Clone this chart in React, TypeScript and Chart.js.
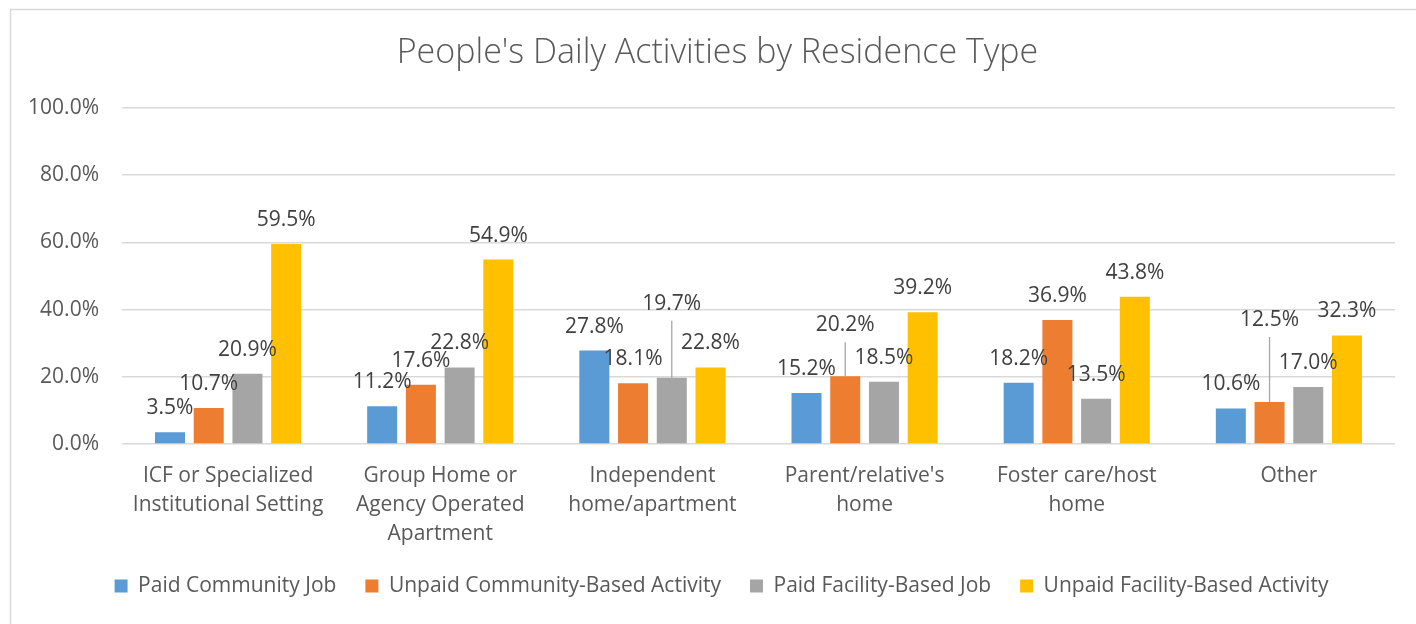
import React, { useEffect, useRef } from 'react';
import { Chart, registerables } from 'chart.js';

Chart.register(...registerables);

const chartTitle = "People's Daily Activities by Residence Type";

const categories: (string | string[])[] = [
  ['ICF or Specialized', 'Institutional Setting'],
  ['Group Home or', 'Agency Operated', 'Apartment'],
  ['Independent', 'home/apartment'],
  ["Parent/relative's", 'home'],
  ['Foster care/host', 'home'],
  'Other',
];

const seriesNames = [
  'Paid Community Job',
  'Unpaid Community-Based Activity',
  'Paid Facility-Based Job',
  'Unpaid Facility-Based Activity',
];

const paidCommunityJob = [3.5, 11.2, 27.8, 15.2, 18.2, 10.6];
const unpaidCommunityActivity = [10.7, 17.6, 18.1, 20.2, 36.9, 12.5];
const paidFacilityJob = [20.9, 22.8, 19.7, 18.5, 13.5, 17.0];
const unpaidFacilityActivity = [59.5, 54.9, 22.8, 39.2, 43.8, 32.3];

const yTickValues = [0, 20, 40, 60, 80, 100];

const seriesColors = ['#5B9BD5', '#ED7D31', '#A5A5A5', '#FFC000'];

// extra upward shift (px) of manually moved data labels, per series / category
const labelLift = [
  [0, 0, 0, 0, 0, 0],
  [0, 0, 0, 27, 0, 58],
  [0, 0, 50, 0, 0, 0],
  [0, 0, 0, 0, 0, 0],
];

const FONT = '"Open Sans", "Noto Sans", sans-serif';

const borderPlugin = {
  id: 'outerBorder',
  beforeDraw(chart: any) {
    const ctx = chart.ctx;
    ctx.save();
    ctx.strokeStyle = '#d9d9d9';
    ctx.lineWidth = 1.5;
    ctx.beginPath();
    ctx.moveTo(10.5, chart.height);
    ctx.lineTo(10.5, 9.5);
    ctx.lineTo(chart.width, 9.5);
    ctx.stroke();
    ctx.restore();
  },
};

// centre the title and legend like the original (slightly right of canvas centre)
const centerShiftPlugin = {
  id: 'centerShift',
  afterLayout(chart: any) {
    if (chart.legend) {
      chart.legend.left += 14;
      chart.legend.right += 14;
    }
    if (chart.titleBlock) {
      chart.titleBlock.left += 10;
      chart.titleBlock.right += 10;
    }
  },
};

const labelPlugin = {
  id: 'barValueLabels',
  afterDatasetsDraw(chart: any) {
    const ctx = chart.ctx;
    ctx.save();
    ctx.font = `21px ${FONT}`;
    ctx.textAlign = 'center';
    ctx.textBaseline = 'middle';
    chart.data.datasets.forEach((ds: any, di: number) => {
      const meta = chart.getDatasetMeta(di);
      meta.data.forEach((el: any, i: number) => {
        const v = ds.data[i] as number;
        const lift = labelLift[di][i];
        const cy = el.y - 24 - lift;
        if (lift > 0) {
          ctx.strokeStyle = '#a6a6a6';
          ctx.lineWidth = 1.3;
          ctx.beginPath();
          ctx.moveTo(el.x, el.y);
          ctx.lineTo(el.x, cy + 17);
          ctx.stroke();
        }
        ctx.fillStyle = '#404040';
        ctx.fillText(v.toFixed(1) + '%', el.x, cy);
      });
    });
    ctx.restore();
  },
};

export default function App() {
  const canvasRef = useRef<HTMLCanvasElement | null>(null);

  useEffect(() => {
    if (!canvasRef.current) return;
    const seriesData = [paidCommunityJob, unpaidCommunityActivity, paidFacilityJob, unpaidFacilityActivity];
    const chart = new Chart(canvasRef.current, {
      type: 'bar',
      data: {
        labels: categories,
        datasets: seriesNames.map((name, i) => ({
          label: name,
          data: seriesData[i],
          backgroundColor: seriesColors[i],
          borderWidth: 0,
          categoryPercentage: 0.73,
          barPercentage: 0.775,
        })),
      },
      options: {
        responsive: true,
        maintainAspectRatio: false,
        animation: false,
        layout: { padding: { left: 20, right: 21, top: 0, bottom: 17.5 } },
        plugins: {
          title: {
            display: true,
            text: chartTitle,
            color: '#595959',
            font: { family: FONT, size: 34, weight: 300 as any, lineHeight: 1.2 },
            padding: { top: 32.6, bottom: 34.6 },
          },
          legend: {
            position: 'bottom',
            labels: {
              boxWidth: 13,
              boxHeight: 13,
              padding: 29,
              color: '#595959',
              font: { family: FONT, size: 21 },
            },
          },
          tooltip: { enabled: false },
        },
        scales: {
          x: {
            grid: { display: false },
            border: { display: false },
            ticks: {
              color: '#595959',
              font: { family: FONT, size: 21, lineHeight: 1.4 },
              padding: 9,
              autoSkip: false,
              maxRotation: 0,
              minRotation: 0,
            },
            afterFit: (scale: any) => {
              scale.height = 102.5;
            },
          },
          y: {
            min: 0,
            max: 100,
            afterBuildTicks: (scale: any) => {
              scale.ticks = yTickValues.map((v) => ({ value: v }));
            },
            grid: { color: '#d9d9d9', lineWidth: 1.5, drawTicks: false },
            border: { display: false },
            ticks: {
              color: '#595959',
              font: { family: FONT, size: 21 },
              padding: 23,
              callback: (v: any) => Number(v).toFixed(1) + '%',
            },
            afterFit: (scale: any) => {
              scale.width = 102;
            },
          },
        },
      },
      plugins: [borderPlugin, centerShiftPlugin, labelPlugin],
    });
    return () => chart.destroy();
  }, []);

  return (
    <div style={{ position: 'absolute', left: 0, top: 0, width: 1416, height: 624 }}>
      <canvas ref={canvasRef} style={{ display: 'block' }} />
    </div>
  );
}
